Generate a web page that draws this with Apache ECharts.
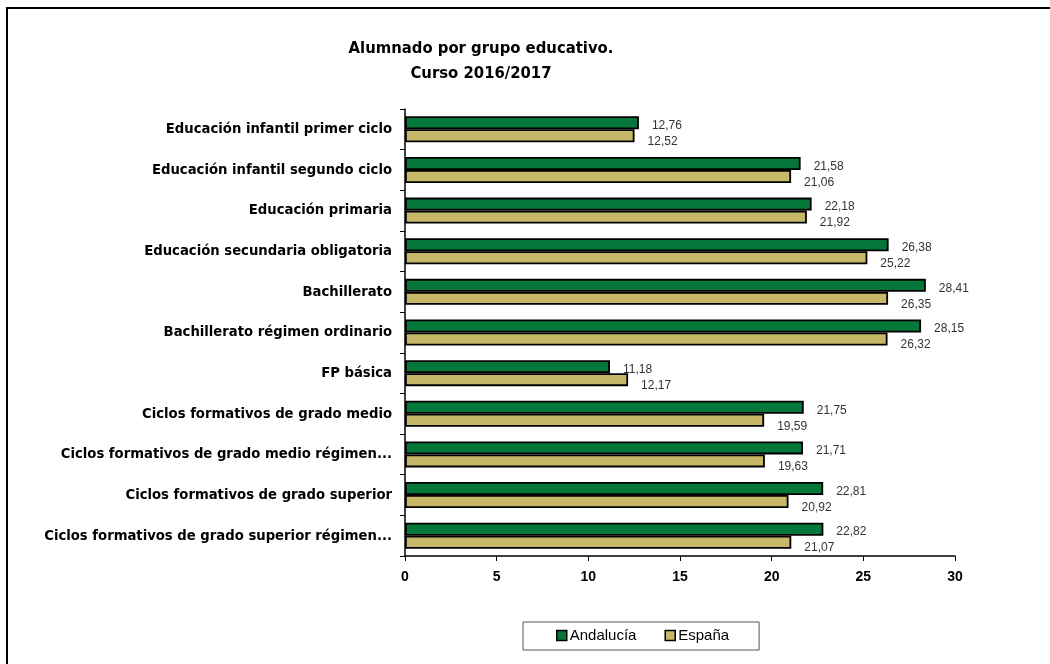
<!DOCTYPE html>
<html>
<head>
<meta charset="utf-8">
<script src="https://cdn.jsdelivr.net/npm/echarts@6/dist/echarts.min.js"></script>
<style>
html,body{margin:0;padding:0;background:#fff;}
#chart{width:1050px;height:664px;}
</style>
</head>
<body>
<div id="chart"></div>
<script>
const categories = [
  "Educación infantil primer ciclo",
  "Educación infantil segundo ciclo",
  "Educación primaria",
  "Educación secundaria obligatoria",
  "Bachillerato",
  "Bachillerato régimen ordinario",
  "FP básica",
  "Ciclos formativos de grado medio",
  "Ciclos formativos de grado medio régimen...",
  "Ciclos formativos de grado superior",
  "Ciclos formativos de grado superior régimen..."
];
const andalucia = [12.76, 21.58, 22.18, 26.38, 28.41, 28.15, 11.18, 21.75, 21.71, 22.81, 22.82];
const espana = [12.52, 21.06, 21.92, 25.22, 26.35, 26.32, 12.17, 19.59, 19.63, 20.92, 21.07];
const xTicks = [0, 5, 10, 15, 20, 25, 30];
const titleLines = ["Alumnado por grupo educativo.", "Curso 2016/2017"];
const seriesNames = ["Andalucía", "España"];

const chart = echarts.init(document.getElementById('chart'), null, {renderer: 'canvas'});
const fmt = p => p.value.toFixed(2).replace('.', ',');
const plain = "'Liberation Sans Narrow', 'Liberation Sans', Arial, sans-serif";
const cond = "'DejaVu Sans Condensed', 'DejaVu Sans', sans-serif";
const bold = "'Liberation Sans', Arial, sans-serif";

chart.setOption({
  animation: false,
  backgroundColor: '#fff',
  graphic: [{
    type: 'rect',
    shape: {x: 7, y: 8, width: 1100, height: 700},
    style: {fill: 'none', stroke: '#000', lineWidth: 2},
    silent: true
  }],
  title: {
    text: titleLines.join('\n'),
    left: 476,
    textAlign: 'center',
    top: 31,
    textStyle: {fontFamily: cond, fontWeight: 'bold', fontSize: 16.5, lineHeight: 25, color: '#000'}
  },
  legend: {
    data: seriesNames,
    left: 523,
    top: 622,
    orient: 'horizontal',
    icon: 'rect',
    padding: [6, 30, 7, 33],
    itemGap: 28,
    itemWidth: 10,
    itemHeight: 10,
    borderColor: '#555',
    borderWidth: 1,
    itemStyle: {borderColor: '#000', borderWidth: 1.5},
    textStyle: {fontFamily: plain, fontSize: 15, color: '#000', padding: [0, 0, 0, -2]}
  },
  grid: {left: 405, right: 95, top: 109, bottom: 108, containLabel: false},
  xAxis: {
    type: 'value',
    min: xTicks[0],
    max: xTicks[xTicks.length - 1],
    interval: 5,
    axisLine: {show: true, lineStyle: {color: '#000', width: 1.5}},
    axisTick: {show: true, length: 5, lineStyle: {color: '#000'}},
    splitLine: {show: false},
    axisLabel: {fontFamily: bold, fontWeight: 'bold', fontSize: 14, color: '#000', margin: 14}
  },
  yAxis: {
    type: 'category',
    data: categories,
    inverse: true,
    axisLine: {show: true, lineStyle: {color: '#000', width: 1.5}},
    axisTick: {show: true, length: 5, lineStyle: {color: '#000'}},
    axisLabel: {fontFamily: cond, fontWeight: 'bold', fontSize: 14.7, color: '#000', margin: 13}
  },
  series: [
    {
      name: seriesNames[0],
      type: 'bar',
      data: andalucia,
      barGap: '0%',
      barCategoryGap: '36%',
      itemStyle: {color: '#06773A', borderColor: '#000', borderWidth: 1.8},
      label: {show: true, position: 'right', distance: 13, offset: [0, 3], formatter: fmt,
              fontFamily: plain, fontSize: 12, color: '#333'}
    },
    {
      name: seriesNames[1],
      type: 'bar',
      data: espana,
      barGap: '0%',
      barCategoryGap: '36%',
      itemStyle: {color: '#C6B868', borderColor: '#000', borderWidth: 1.8},
      label: {show: true, position: 'right', distance: 13, offset: [0, 6], formatter: fmt,
              fontFamily: plain, fontSize: 12, color: '#333'}
    }
  ]
});
</script>
</body>
</html>
